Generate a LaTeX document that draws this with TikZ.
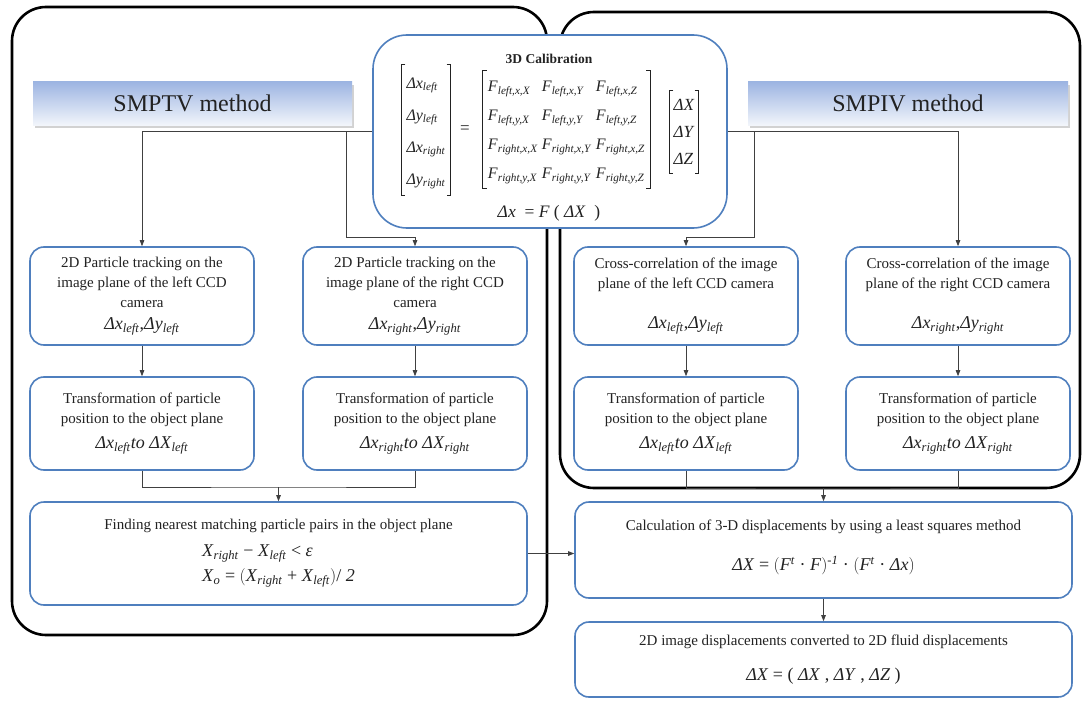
\documentclass[tikz,border=0pt]{standalone}
\usepackage{fontspec}
\setmainfont{Liberation Serif}
\usetikzlibrary{arrows.meta,shadows,calc}
\definecolor{boxblue}{HTML}{4F7FBE}
\definecolor{lincol}{HTML}{404040}
\definecolor{txt}{HTML}{222222}
\definecolor{shtop}{HTML}{9DB5E2}
\definecolor{shbot}{HTML}{F2F5FB}
\newcommand{\ds}[2]{\textit{#1}\textsubscript{\textit{#2}}}
\newcommand{\mfont}{\fontsize{18}{20}\selectfont}
\begin{document}
\begin{tikzpicture}[x=1pt,y=-1pt,
  bbox/.style={draw=boxblue, line width=1.6pt, rounded corners=14pt, fill=white,
    align=center, inner sep=0pt, text=txt, font=\fontsize{15}{20}\selectfont},
  smallbox/.style={bbox, minimum width=224pt},
  widebox/.style={bbox, minimum width=497pt},
  framebox/.style={draw=black, line width=2.6pt, rounded corners=34pt},
  methodbox/.style={top color=shtop, bottom color=shbot, inner sep=0pt,
    minimum width=319pt, minimum height=43pt, text=txt, font=\fontsize{24}{28}\selectfont,
    drop shadow={shadow xshift=2pt, shadow yshift=-3pt, opacity=0.35}},
  conn/.style={draw=lincol, line width=0.8pt, -{Triangle[length=6pt,width=4.5pt]}},
  plain/.style={draw=lincol, line width=0.8pt},
  mtx/.style={inner sep=0pt, text=txt},
  brk/.style={draw=txt, line width=0.6pt}]
\useasboundingbox (0,0) rectangle (1085,701);
\fill[white] (0,0) rectangle (1085,701);

% frames
\draw[framebox] (12,7) rectangle (547,635);
\draw[framebox] (560,12) rectangle (1080,488);

% method titles
\node[methodbox] (smptv) at (192.5,103.5) {SMPTV method};
\node[methodbox, minimum width=320pt] (smpiv) at (908,103.5) {SMPIV method};

% calibration box
\node[bbox, rounded corners=34pt, minimum width=354pt, minimum height=193pt] (calib) at (550,131.5) {};
\node[mtx, font=\fontsize{13.5}{16}\selectfont\bfseries] (ctitle) at (549,59) {3D Calibration};
\node[mtx, inner xsep=5pt, inner ysep=1pt] (cvec) at (426,130) {\fontsize{16}{32}\selectfont
  \begin{tabular}{@{}l@{}}
  \ds{Δx}{left}\\ \ds{Δy}{left}\\ \ds{Δx}{right}\\ \ds{Δy}{right}
  \end{tabular}};
\node[mtx, font=\fontsize{17}{18}\selectfont] (ceq) at (465,130) {=};
\node[mtx, inner xsep=5pt, inner ysep=1pt] (cF) at (566.5,129.5) {\fontsize{16}{29}\selectfont
  \begin{tabular}{@{}l@{\hspace{4pt}}l@{\hspace{4pt}}l@{}}
  \ds{F}{left,x,X} & \ds{F}{left,x,Y} & \ds{F}{left,x,Z}\\
  \ds{F}{left,y,X} & \ds{F}{left,y,Y} & \ds{F}{left,y,Z}\\
  \ds{F}{right,x,X} & \ds{F}{right,x,Y} & \ds{F}{right,x,Z}\\
  \ds{F}{right,y,X} & \ds{F}{right,y,Y} & \ds{F}{right,y,Z}
  \end{tabular}};
\node[mtx, inner xsep=4pt, inner ysep=1pt] (cX) at (684,132) {\fontsize{17}{27}\selectfont
  \begin{tabular}{@{}l@{}}
  \textit{ΔX}\\ \textit{ΔY}\\ \textit{ΔZ}
  \end{tabular}};
\foreach \m in {cvec,cF,cX}{
  \draw[brk] ([xshift=4pt]\m.north west) -- (\m.north west) -- (\m.south west) -- ([xshift=4pt]\m.south west);
  \draw[brk] ([xshift=-4pt]\m.north east) -- (\m.north east) -- (\m.south east) -- ([xshift=-4pt]\m.south east);
}
\node[mtx, font=\fontsize{17.5}{18}\selectfont] (cform) at (549,213) {\textit{Δx}\enspace= \textit{F} ( \textit{ΔX}\enspace)};

% row 1
\node[smallbox, minimum height=98pt] (b1) at (142,296)
  {2D Particle tracking on the\\image plane of the left CCD\\camera\\[2pt]
   {\mfont\ds{Δx}{left},\ds{Δy}{left}}};
\node[smallbox, minimum height=98pt] (b2) at (415,296)
  {2D Particle tracking on the\\image plane of the right CCD\\camera\\[2pt]
   {\mfont\ds{Δx}{right},\ds{Δy}{right}}};
\node[smallbox, minimum height=98pt] (b3) at (686,296)
  {Cross-correlation of the image\\plane of the left CCD camera\\[20pt]
   {\mfont\ds{Δx}{left},\ds{Δy}{left}}};
\node[smallbox, minimum height=98pt] (b4) at (958,296)
  {Cross-correlation of the image\\plane of the right CCD camera\\[20pt]
   {\mfont\ds{Δx}{right},\ds{Δy}{right}}};

% row 2
\node[smallbox, minimum height=93pt] (b5) at (142,423.5)
  {Transformation of particle\\position to the object plane\\[5pt]
   {\mfont\ds{Δx}{left}\textit{to ΔX}\textsubscript{\textit{left}}}};
\node[smallbox, minimum height=93pt] (b6) at (415,423.5)
  {Transformation of particle\\position to the object plane\\[5pt]
   {\mfont\ds{Δx}{right}\textit{to ΔX}\textsubscript{\textit{right}}}};
\node[smallbox, minimum height=93pt] (b7) at (686,423.5)
  {Transformation of particle\\position to the object plane\\[5pt]
   {\mfont\ds{Δx}{left}\textit{to ΔX}\textsubscript{\textit{left}}}};
\node[smallbox, minimum height=93pt] (b8) at (958,423.5)
  {Transformation of particle\\position to the object plane\\[5pt]
   {\mfont\ds{Δx}{right}\textit{to ΔX}\textsubscript{\textit{right}}}};

% bottom boxes
\node[widebox, minimum height=103pt] (find) at (278.5,553.5)
  {Finding nearest matching particle pairs in the object plane\\[9pt]
   {\mfont\begin{tabular}{@{}l@{}}
     \ds{X}{right} − \ds{X}{left} < \textit{ε}\\[5pt]
     \ds{X}{o} = $\bigl($\ds{X}{right} + \ds{X}{left}$\bigr)$/ \textit{2}
   \end{tabular}}};
\node[widebox, minimum height=96pt] (calc) at (823.5,550)
  {Calculation of 3-D displacements by using a least squares method\\[20pt]
   {\mfont\textit{ΔX} = $\bigl($\textit{F}\textsuperscript{\textit{t}} · \textit{F}$\bigr)$\textsuperscript{\textit{-1}} · $\bigl($\textit{F}\textsuperscript{\textit{t}} · \textit{Δx}$\bigr)$\rule[-9pt]{0pt}{9pt}}};
\node[widebox, minimum height=75pt] (last) at (823.5,659.5)
  {2D image displacements converted to 2D fluid displacements\\[15pt]
   {\mfont\textit{ΔX} = ( \textit{ΔX} , \textit{ΔY} , \textit{ΔZ} )}};

% connectors from calibration
\coordinate (j1) at (346,131.5);
\coordinate (k2) at (415,237);
\coordinate (j2) at (754,131.5);
\coordinate (k3) at (686,237);
\draw[conn] (calib.west) -| (b1.north);
\draw[plain] (j1) |- (k2);
\draw[conn] (k2) -- (b2.north);
\draw[conn] (calib.east) -| (b4.north);
\draw[plain] (j2) |- (k3);
\draw[conn] (k3) -- (b3.north);

% row 1 to row 2
\draw[conn] (b1) -- (b5);
\draw[conn] (b2) -- (b6);
\draw[conn] (b3) -- (b7);
\draw[conn] (b4) -- (b8);

% merges
\coordinate (m1) at (278.5,487);
\coordinate (m2) at (823.5,488);
\draw[plain] (b5.south) |- (m1) -| (b6.south);
\draw[conn] (m1) -- (find.north);
\draw[plain] (b7.south) |- (m2) -| (b8.south);
\draw[conn] (m2) -- (calc.north);
\draw[conn] (find.east) -- (find.east -| calc.west);
\draw[conn] (calc) -- (last);
\end{tikzpicture}
\end{document}
